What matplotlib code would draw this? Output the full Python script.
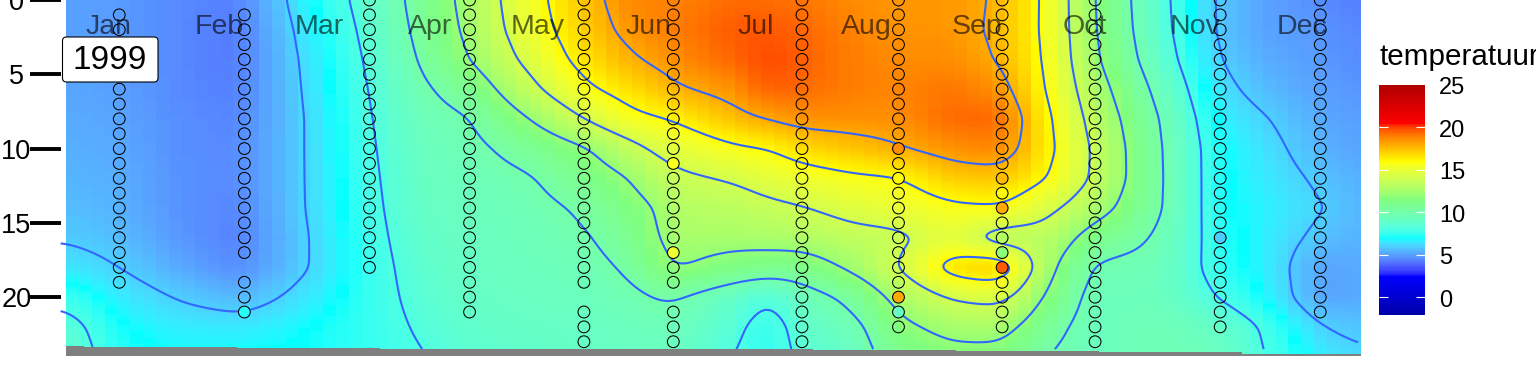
import numpy as np
import matplotlib
matplotlib.use("Agg")
import matplotlib.pyplot as plt
from matplotlib.colors import ListedColormap, Normalize, to_rgb
from matplotlib.patches import FancyBboxPatch
from matplotlib.transforms import IdentityTransform

plt.rcParams['font.family'] = ['Liberation Sans', 'DejaVu Sans']

# ---------- data ----------
year_label = "1999"
month_names = ["Jan", "Feb", "Mar", "Apr", "May", "Jun", "Jul", "Aug", "Sep", "Oct", "Nov", "Dec"]
month_days = [15, 46, 74, 105, 135, 166, 196, 227, 258, 288, 319, 349]
depth_ticks = [0, 5, 10, 15, 20]
legend_ticks = [0, 5, 10, 15, 20, 25]
contour_levels = [6, 8, 10, 12, 14, 16, 18]
palette = ["#0000AA", "#0000FF", "#00FFFF", "#7FFF7F", "#FFFF00", "#FF0000", "#B00000"]

# temperature table: depth rows and one profile per day of year
depth_rows = [0, 2, 4, 6, 8, 10, 12, 14, 16, 18, 20, 22, 24]
table_days = [3, 18, 35, 52, 70, 88, 102, 116, 132, 148, 161, 167, 173, 191, 200, 209, 223, 236,
              251, 265, 278, 291, 309, 326, 340, 354, 366]
t003 = [5.0, 5.0, 5.0, 5.1, 5.2, 5.3, 5.4, 5.6, 5.9, 6.5, 7.6, 8.6, 9.0]
t018 = [4.9, 4.9, 4.9, 5.0, 5.1, 5.2, 5.3, 5.4, 5.6, 6.0, 6.6, 7.0, 7.2]
t035 = [4.5, 4.5, 4.5, 4.5, 4.6, 4.6, 4.7, 4.7, 4.8, 5.2, 5.9, 6.6, 6.9]
t052 = [4.3, 4.2, 4.2, 4.3, 4.4, 4.5, 4.5, 4.4, 4.3, 4.5, 5.4, 6.5, 7.0]
t070 = [6.7, 6.4, 6.2, 6.1, 6.0, 6.0, 6.0, 6.0, 5.9, 5.9, 6.4, 6.9, 7.0]
t088 = [8.6, 8.4, 8.2, 8.03, 7.9, 7.8, 7.7, 7.6, 7.5, 7.4, 7.4, 7.4, 7.4]
t102 = [10.6, 10.4, 10.1, 9.7, 9.4, 9.2, 9.1, 9.0, 8.8, 8.6, 8.4, 8.15, 7.9]
t116 = [12.6, 12.4, 12.0, 10.8, 9.9, 9.6, 9.4, 9.3, 9.2, 9.1, 9.0, 8.8, 8.5]
t132 = [15.2, 15.0, 14.4, 13.4, 11.9, 10.6, 9.8, 9.5, 9.4, 9.3, 9.2, 9.0, 8.8]
t148 = [17.4, 17.1, 16.6, 15.7, 14.0, 11.8, 11.0, 10.2, 9.8, 9.5, 9.3, 9.1, 9.0]
t161 = [18.8, 18.5, 17.8, 16.7, 15.6, 13.4, 12.0, 11.4, 10.8, 10.2, 9.6, 9.3, 9.1]
t167 = [18.9, 18.8, 18.2, 17.2, 15.8, 14.2, 12.9, 11.8, 11.7, 11.2, 10.0, 9.4, 9.2]
t173 = [18.8, 19.0, 18.6, 17.8, 16.1, 14.7, 13.6, 13.0, 12.6, 12.2, 10.2, 9.5, 9.3]
t191 = [19.4, 19.7, 19.5, 18.6, 17.6, 15.8, 14.2, 13.2, 12.6, 11.2, 8.8, 8.3, 7.9]
t200 = [19.3, 19.7, 20.0, 19.7, 18.1, 16.0, 14.8, 13.6, 12.7, 11.0, 8.0, 7.2, 7.1]
t209 = [19.2, 19.5, 19.6, 19.4, 18.6, 16.8, 15.2, 13.9, 12.8, 11.0, 9.2, 8.7, 8.4]
t223 = [18.7, 18.9, 19.0, 19.0, 18.6, 17.4, 15.7, 14.6, 13.4, 12.3, 10.4, 9.4, 8.9]
t236 = [18.4, 18.5, 18.7, 18.8, 18.6, 17.9, 15.9, 15.0, 13.6, 14.0, 12.6, 11.6, 11.0]
t251 = [18.5, 18.5, 18.7, 19.2, 19.4, 18.6, 17.2, 15.7, 14.9, 16.8, 14.2, 12.5, 11.5]
t265 = [17.8, 17.7, 17.9, 18.6, 19.5, 18.9, 17.4, 15.9, 13.0, 17.4, 14.6, 12.7, 11.4]
t278 = [15.6, 15.6, 15.7, 15.8, 16.2, 16.4, 16.0, 14.4, 13.3, 12.4, 11.6, 10.6, 9.9]
t291 = [11.9, 12.0, 12.2, 12.8, 13.3, 13.7, 13.7, 12.8, 11.1, 9.7, 9.3, 9.2, 9.2]
t309 = [8.5, 8.6, 8.9, 9.5, 10.0, 10.15, 10.2, 10.2, 9.8, 9.5, 9.4, 9.6, 9.7]
t326 = [5.7, 5.7, 5.9, 6.3, 6.7, 7.0, 7.0, 7.0, 7.2, 7.3, 7.9, 9.0, 9.3]
t340 = [5.0, 5.0, 5.2, 5.5, 6.0, 6.3, 6.5, 6.7, 6.6, 6.6, 6.8, 7.7, 7.85]
t354 = [4.6, 4.8, 4.9, 5.0, 5.2, 5.4, 5.8, 6.1, 5.7, 5.0, 5.0, 6.0, 6.6]
t366 = [4.2, 4.4, 4.5, 4.7, 4.9, 5.0, 5.2, 5.3, 5.3, 5.2, 5.2, 5.7, 6.1]

# sampling stations and the depths measured there
station_days = [18, 53, 88, 116, 148, 173, 209, 236, 265, 291, 326, 354]
depths_jan = list(range(1, 20))
depths_feb = list(range(1, 18)) + [19, 20, 21]
depths_mar = list(range(0, 19))
depths_apr = list(range(0, 22))
depths_may = list(range(0, 20)) + [21, 22, 23]
depths_jun = list(range(0, 20)) + [21, 22, 23]
depths_jul = list(range(0, 24))
depths_aug = list(range(0, 23))
depths_sep = list(range(0, 23))
depths_oct = list(range(0, 24))
depths_nov = list(range(0, 23))
depths_dec = list(range(0, 22))
station_depths = [depths_jan, depths_feb, depths_mar, depths_apr, depths_may, depths_jun,
                  depths_jul, depths_aug, depths_sep, depths_oct, depths_nov, depths_dec]

# measured values that stand out from the surface (day, depth, temperature)
marked_days = [53, 173, 173, 236, 236, 236, 265, 265, 265, 265, 265, 265, 326, 236]
marked_depths = [21, 11, 17, 10, 20, 21, 12, 13, 14, 16, 17, 18, 16, 12]
marked_temps = [7.2, 15.6, 15.2, 18.6, 18.0, 9.0, 17.6, 16.0, 18.0, 13.0, 11.8, 19.6, 5.9, 16.0]

# grey band under the surface: start day and its upper depth
band_days = [3.1, 8, 51, 91, 212, 252, 292, 332, 365.4]
band_depths = [23.3, 23.37, 23.42, 23.47, 23.55, 23.62, 23.72, 23.82, 23.82]

# ---------- helpers ----------
W, H = 1536, 384
LEFT, RIGHT, BOTTOM = 66, 1361, 356
XLIM = (3.1, 365.4)
YLIM = (23.96, 0.02)
TMIN, TMAX = -2.1, 25.0


def rgb2lab(c):
    c = np.asarray(c, float)
    lin = np.where(c > 0.04045, ((c + 0.055) / 1.055) ** 2.4, c / 12.92)
    M = np.array([[0.4124, 0.3576, 0.1805], [0.2126, 0.7152, 0.0722], [0.0193, 0.1192, 0.9505]])
    xyz = (M @ lin) / np.array([0.95047, 1.0, 1.08883])
    f = np.where(xyz > 0.008856, np.cbrt(xyz), 7.787 * xyz + 16 / 116)
    return np.array([116 * f[1] - 16, 500 * (f[0] - f[1]), 200 * (f[1] - f[2])])


def lab2rgb(lab):
    fy = (lab[0] + 16) / 116
    f = np.array([fy + lab[1] / 500, fy, fy - lab[2] / 200])
    xyz = np.where(f ** 3 > 0.008856, f ** 3, (f - 16 / 116) / 7.787) * np.array([0.95047, 1.0, 1.08883])
    Mi = np.array([[3.2406, -1.5372, -0.4986], [-0.9689, 1.8758, 0.0415], [0.0557, -0.2040, 1.0570]])
    lin = np.clip(Mi @ xyz, 0, 1)
    return np.clip(np.where(lin > 0.0031308, 1.055 * lin ** (1 / 2.4) - 0.055, 12.92 * lin), 0, 1)


labs = np.array([rgb2lab(to_rgb(c)) for c in palette])
pos = np.linspace(0, 1, len(palette))
lut = [lab2rgb(np.array([np.interp(u, pos, labs[:, k]) for k in range(3)])) for u in np.linspace(0, 1, 512)]
cmap = ListedColormap(lut)
norm = Normalize(TMIN, TMAX)


def blur(a, sigma, axis):
    r = int(3 * sigma)
    k = np.exp(-0.5 * (np.arange(-r, r + 1) / sigma) ** 2)
    k /= k.sum()
    pad = [(0, 0), (0, 0)]
    pad[axis] = (r, r)
    b = np.pad(a, pad, mode="edge")
    return np.apply_along_axis(lambda v: np.convolve(v, k, mode="valid"), axis, b)


table = np.column_stack([t003, t018, t035, t052, t070, t088, t102, t116, t132, t148, t161, t167, t173, t191,
                         t200, t209, t223, t236, t251, t265, t278, t291, t309, t326, t340, t354, t366])
fine_days = np.arange(1.6, 365.01, 1.0)
fine_depth = np.arange(0, 24.01, 0.1)
by_depth = np.array([np.interp(fine_days, table_days, row) for row in table])
surface = np.array([np.interp(fine_depth, depth_rows, by_depth[:, j]) for j in range(len(fine_days))]).T
surface = blur(blur(surface, 3.5, 1), 3.5, 0)

# ---------- figure ----------
fig = plt.figure(figsize=(W / 100, H / 100), dpi=100)
ax = fig.add_axes([LEFT / W, 1 - BOTTOM / H, (RIGHT - LEFT) / W, BOTTOM / H])
ax.set_xlim(*XLIM)
ax.set_ylim(*YLIM)

# stepped raster, about 13 px per column
col_edges = np.arange(XLIM[0], XLIM[1] + 3.6, 3.6)
col_centres = 0.5 * (col_edges[:-1] + col_edges[1:])
idx = np.clip(np.searchsorted(fine_days, col_centres), 0, len(fine_days) - 1)
row_edges = np.concatenate([fine_depth - 0.05, [fine_depth[-1] + 0.05]])
ax.pcolormesh(col_edges, row_edges, surface[:, idx], cmap=cmap, norm=norm, shading="flat", zorder=1)

cs = ax.contour(fine_days, fine_depth[:236], surface[:236], levels=contour_levels, colors="#3366FF",
                linewidths=1.5, zorder=2)
cs.set_clip_on(False)

ax.fill_between(band_days, band_depths, YLIM[0], step="post", color="#7F7F7F", lw=0, zorder=3)

marked = set(zip(marked_days, marked_depths))
for d, deps in zip(station_days, station_depths):
    plain = [z for z in deps if (d, z) not in marked]
    ax.scatter([d] * len(plain), plain, s=72, facecolors="none", edgecolors="black", linewidths=0.75, zorder=5)
ax.scatter(marked_days, marked_depths, s=72, c=marked_temps, cmap=cmap, norm=norm,
           edgecolors="black", linewidths=0.75, zorder=6)

for name, d in zip(month_names, month_days):
    ax.text(d, 1.85, name, ha="center", va="center", fontsize=20.5, color="black", alpha=0.6, zorder=7)

# year label box
fig.add_artist(FancyBboxPatch((62.5, H - 82), 95.5, 45, boxstyle="round,pad=0,rounding_size=4",
                              transform=IdentityTransform(), fc="white", ec="black", lw=0.8, zorder=8))
fig.text(110 / W, 1 - 60.5 / H, year_label, ha="center", va="center", fontsize=24, color="black", zorder=9)

for s in ax.spines.values():
    s.set_visible(False)
ax.spines["left"].set_position(("outward", 3.6))
ax.set_xticks([])
ax.set_yticks(depth_ticks)
ax.tick_params(axis="y", length=22.4, width=2.8, color="black", pad=9.7, labelsize=19.5)
for lab in ax.get_yticklabels():
    lab.set_ha("center")
ax.patch.set_facecolor("white")

# legend
fig.text(1379 / W, 1 - 65 / H, "temperatuur", fontsize=21.3, color="black", ha="left", va="baseline")
cax = fig.add_axes([1379 / W, 1 - 315 / H, 46 / W, 230 / H])
grad = np.linspace(TMIN, TMAX, 300)
cax.pcolormesh([0, 1], np.linspace(TMIN, TMAX, 301), grad[:, None], cmap=cmap, norm=norm)
cax.set_xlim(0, 1)
cax.set_ylim(TMIN, TMAX)
cax.axis("off")
for v in legend_ticks:
    if v < TMAX:
        cax.plot([0, 0.2], [v, v], color="white", lw=0.8, solid_capstyle="butt")
        cax.plot([0.8, 1], [v, v], color="white", lw=0.8, solid_capstyle="butt")
    cax.annotate(str(v), (1.3, v), xytext=(0, -2.5), textcoords="offset points", fontsize=17,
                 ha="left", va="center", color="black", annotation_clip=False)

fig.savefig("out.png", dpi=100, facecolor="white")
